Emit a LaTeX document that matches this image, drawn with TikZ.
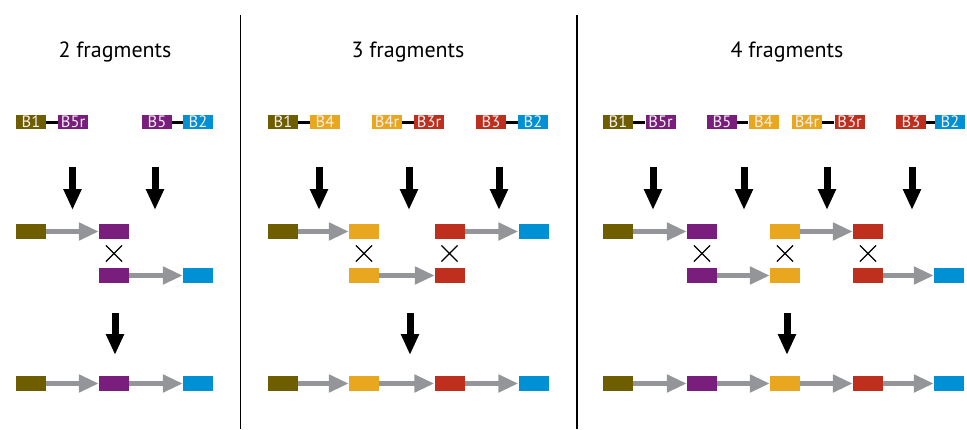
\documentclass[tikz,border=0pt]{standalone}
\usepackage{fontspec}
\setmainfont{PT Sans}
\usetikzlibrary{arrows.meta,shapes.misc}
\definecolor{cOl}{HTML}{6E5E00}
\definecolor{cPu}{HTML}{7A1E7E}
\definecolor{cYe}{HTML}{E8A71E}
\definecolor{cRe}{HTML}{BE301D}
\definecolor{cBl}{HTML}{0091D5}
\definecolor{cGr}{HTML}{939598}
\definecolor{labtext}{HTML}{F6EEF2}
\tikzset{
  blk/.style={minimum width=30pt, minimum height=15pt, inner sep=0pt, draw=none},
  lab/.style={blk, minimum height=14pt, text height=10.5pt, text depth=0pt, text=labtext, font=\fontsize{16.5}{16.5}\selectfont},
  garrow/.style={draw=cGr, line width=5.5pt, -{Triangle[length=20pt,width=17pt]}},
  barrow/.style={draw=black, line width=7pt, -{Triangle[length=21pt,width=17pt]}},
  link/.style={draw=black, line width=3pt},
  xmark/.style={cross out, draw=black, line width=1.2pt, minimum size=15pt, inner sep=0pt},
  title/.style={font=\fontsize{22}{22}\selectfont, inner sep=0pt},
  divider/.style={draw=black, line width=1.2pt}
}
\begin{document}
\begin{tikzpicture}[x=1pt,y=-1pt]
\useasboundingbox (0,0) rectangle (967,429);
% dividers
\coordinate (d1t) at (240.5,15); \coordinate (d1b) at (240.5,429);
\coordinate (d2t) at (577,15); \coordinate (d2b) at (577,429);
\draw[divider] (d1t) -- (d1b);
\draw[divider] (d2t) -- (d2b);
% titles
\node[title] (t1) at (115,52) {2 fragments};
\node[title] (t2) at (408,52) {3 fragments};
\node[title] (t3) at (787,52) {4 fragments};

% ---------- Panel 1 ----------
\node[lab, fill=cOl] (p1l1) at (31,122) {B1};
\node[lab, fill=cPu] (p1l2) at (73,122) {B5r};
\node[lab, fill=cPu] (p1l3) at (157,122) {B5};
\node[lab, fill=cBl] (p1l4) at (198,122) {B2};
\draw[link] (p1l1) -- (p1l2);
\draw[link] (p1l3) -- (p1l4);
\coordinate (p1u1) at (72.5,167); \coordinate (p1v1) at (72.5,210);
\coordinate (p1u2) at (155,167); \coordinate (p1v2) at (155,210);
\draw[barrow] (p1u1) -- (p1v1);
\draw[barrow] (p1u2) -- (p1v2);
\node[blk, fill=cOl] (p1a1) at (31,231.5) {};
\node[blk, fill=cPu] (p1a2) at (114,231.5) {};
\node[blk, fill=cPu] (p1b1) at (114,275.5) {};
\node[blk, fill=cBl] (p1b2) at (198,275.5) {};
\draw[garrow] (p1a1) -- (p1a2);
\draw[garrow] (p1b1) -- (p1b2);
\node[xmark] (p1x1) at (114,253.5) {};
\coordinate (p1u3) at (115,313); \coordinate (p1v3) at (115,355);
\draw[barrow] (p1u3) -- (p1v3);
\node[blk, fill=cOl] (p1c1) at (31,383.5) {};
\node[blk, fill=cPu] (p1c2) at (114,383.5) {};
\node[blk, fill=cBl] (p1c3) at (198,383.5) {};
\draw[garrow] (p1c1) -- (p1c2);
\draw[garrow] (p1c2) -- (p1c3);

% ---------- Panel 2 ----------
\node[lab, fill=cOl] (p2l1) at (283,122) {B1};
\node[lab, fill=cYe] (p2l2) at (325,122) {B4};
\node[lab, fill=cYe] (p2l3) at (387,122) {B4r};
\node[lab, fill=cRe] (p2l4) at (429,122) {B3r};
\node[lab, fill=cRe] (p2l5) at (491,122) {B3};
\node[lab, fill=cBl] (p2l6) at (533,122) {B2};
\draw[link] (p2l1) -- (p2l2);
\draw[link] (p2l3) -- (p2l4);
\draw[link] (p2l5) -- (p2l6);
\coordinate (p2u1) at (319,167); \coordinate (p2v1) at (319,210);
\coordinate (p2u2) at (409,167); \coordinate (p2v2) at (409,210);
\coordinate (p2u3) at (499,167); \coordinate (p2v3) at (499,210);
\draw[barrow] (p2u1) -- (p2v1);
\draw[barrow] (p2u2) -- (p2v2);
\draw[barrow] (p2u3) -- (p2v3);
\node[blk, fill=cOl] (p2a1) at (283,231.5) {};
\node[blk, fill=cYe] (p2a2) at (364,231.5) {};
\node[blk, fill=cRe] (p2a3) at (449.5,231.5) {};
\node[blk, fill=cBl] (p2a4) at (533.5,231.5) {};
\draw[garrow] (p2a1) -- (p2a2);
\draw[garrow] (p2a3) -- (p2a4);
\node[blk, fill=cYe] (p2b1) at (364,275.5) {};
\node[blk, fill=cRe] (p2b2) at (450,275.5) {};
\draw[garrow] (p2b1) -- (p2b2);
\node[xmark] (p2x1) at (364,253.5) {};
\node[xmark] (p2x2) at (449.5,253.5) {};
\coordinate (p2u4) at (410,313); \coordinate (p2v4) at (410,355);
\draw[barrow] (p2u4) -- (p2v4);
\node[blk, fill=cOl] (p2c1) at (283,383.5) {};
\node[blk, fill=cYe] (p2c2) at (364,383.5) {};
\node[blk, fill=cRe] (p2c3) at (449.5,383.5) {};
\node[blk, fill=cBl] (p2c4) at (533.5,383.5) {};
\draw[garrow] (p2c1) -- (p2c2);
\draw[garrow] (p2c2) -- (p2c3);
\draw[garrow] (p2c3) -- (p2c4);

% ---------- Panel 3 ----------
\node[lab, fill=cOl] (p3l1) at (618,122) {B1};
\node[lab, fill=cPu] (p3l2) at (660.5,122) {B5r};
\node[lab, fill=cPu] (p3l3) at (722,122) {B5};
\node[lab, fill=cYe] (p3l4) at (763.5,122) {B4};
\node[lab, fill=cYe] (p3l5) at (807,122) {B4r};
\node[lab, fill=cRe] (p3l6) at (849.5,122) {B3r};
\node[lab, fill=cRe] (p3l7) at (911,122) {B3};
\node[lab, fill=cBl] (p3l8) at (950,122) {B2};
\draw[link] (p3l1) -- (p3l2);
\draw[link] (p3l3) -- (p3l4);
\draw[link] (p3l5) -- (p3l6);
\draw[link] (p3l7) -- (p3l8);
\coordinate (p3u1) at (653,167); \coordinate (p3v1) at (653,210);
\coordinate (p3u2) at (744,167); \coordinate (p3v2) at (744,210);
\coordinate (p3u3) at (827,167); \coordinate (p3v3) at (827,210);
\coordinate (p3u4) at (912,167); \coordinate (p3v4) at (912,210);
\draw[barrow] (p3u1) -- (p3v1);
\draw[barrow] (p3u2) -- (p3v2);
\draw[barrow] (p3u3) -- (p3v3);
\draw[barrow] (p3u4) -- (p3v4);
\node[blk, fill=cOl] (p3a1) at (618,231.5) {};
\node[blk, fill=cPu] (p3a2) at (702,231.5) {};
\node[blk, fill=cYe] (p3a3) at (785,231.5) {};
\node[blk, fill=cRe] (p3a4) at (868,231.5) {};
\draw[garrow] (p3a1) -- (p3a2);
\draw[garrow] (p3a3) -- (p3a4);
\node[blk, fill=cPu] (p3b1) at (702,275.5) {};
\node[blk, fill=cYe] (p3b2) at (785,275.5) {};
\node[blk, fill=cRe] (p3b3) at (868,275.5) {};
\node[blk, fill=cBl] (p3b4) at (949,275.5) {};
\draw[garrow] (p3b1) -- (p3b2);
\draw[garrow] (p3b3) -- (p3b4);
\node[xmark] (p3x1) at (702,253.5) {};
\node[xmark] (p3x2) at (785,253.5) {};
\node[xmark] (p3x3) at (868,253.5) {};
\coordinate (p3u5) at (787,313); \coordinate (p3v5) at (787,355);
\draw[barrow] (p3u5) -- (p3v5);
\node[blk, fill=cOl] (p3c1) at (618,383.5) {};
\node[blk, fill=cPu] (p3c2) at (702,383.5) {};
\node[blk, fill=cYe] (p3c3) at (785,383.5) {};
\node[blk, fill=cRe] (p3c4) at (868,383.5) {};
\node[blk, fill=cBl] (p3c5) at (949,383.5) {};
\draw[garrow] (p3c1) -- (p3c2);
\draw[garrow] (p3c2) -- (p3c3);
\draw[garrow] (p3c3) -- (p3c4);
\draw[garrow] (p3c4) -- (p3c5);
\end{tikzpicture}
\end{document}
